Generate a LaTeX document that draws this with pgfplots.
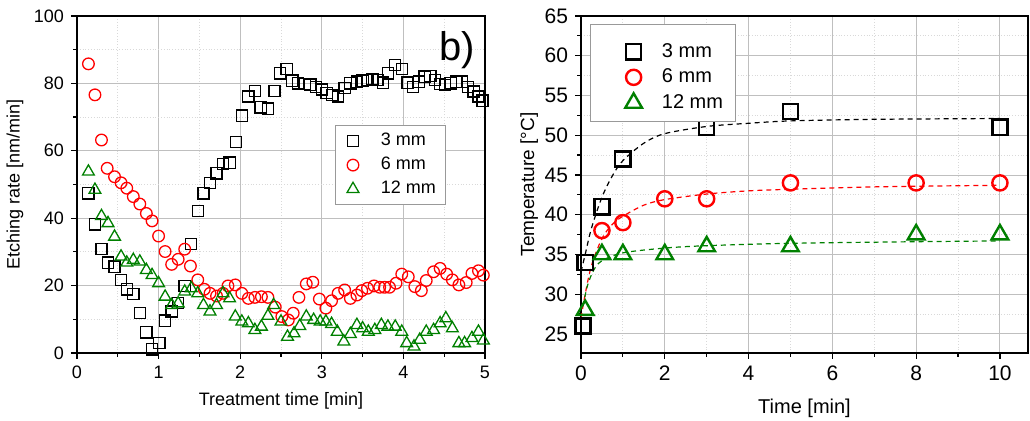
\documentclass[border=0pt]{standalone}
\usepackage{fontspec}
\setmainfont{Liberation Sans}
\usepackage{pgfplots}
\pgfplotsset{compat=1.18}

\definecolor{dgreen}{rgb}{0,0.5,0}

\pgfplotsset{
  panel/.style={
    scale only axis,
    anchor=south west,
    axis line style={line width=0.9pt},
    tick align=outside,
    xtick pos=bottom, ytick pos=left,
    tick style={black, line width=0.6pt},
    major tick length=3pt, minor tick length=1.8pt,
    grid=both,
    major grid style={gray!50, line width=0.45pt},
    minor grid style={gray!30, densely dotted, line width=0.45pt},
    minor tick num=1,
    ticklabel style={font=\fontsize{9}{10}\selectfont},
    /pgf/number format/assume math mode=true,
    legend cell align=left,
  },
  % legend marker at x=#1, with extra room #2 above it
  legmark/.style 2 args={legend image code/.code={\path (0pt,#2) (0pt,-1pt); \draw[##1] plot coordinates {(#1,0pt)};}},
}

\begin{document}
\begin{tikzpicture}
\useasboundingbox (0,0) rectangle (515pt,210.5pt);

% left: etching rate
\begin{axis}[panel,
  at={(38.5pt,34pt)}, width=204pt, height=168.5pt,
  xmin=0, xmax=5, ymin=0, ymax=100,
  xtick={0,1,2,3,4,5}, ytick={0,20,40,60,80,100},
  xlabel={Treatment time [min]}, ylabel={Etching rate [nm/min]},
  xlabel style={font=\fontsize{9}{10}\selectfont, at={(axis description cs:0.5,-0.142)}, anchor=center},
  ylabel style={font=\fontsize{9}{10}\selectfont, at={(axis description cs:-0.152,0.5)}, anchor=center},
  legend style={at={(0.632,0.677)}, anchor=north west, draw=gray!80, line width=0.5pt,
    font=\fontsize{9}{10}\selectfont, row sep=0.2pt, inner xsep=3pt, inner ysep=2pt,
    /tikz/every odd column/.append style={column sep=9pt}},
  every axis plot/.append style={only marks, line width=0.65pt},
]
\addplot[black, mark=square, mark size=2.8pt, legmark={5.5pt}{1pt}] coordinates {
(0.14,47.4) (0.22,38.2) (0.30,30.8) (0.38,26.8) (0.46,25.6) (0.54,21.7) (0.61,18.9) (0.69,17.5)
(0.77,11.8) (0.85,6.1) (0.92,1.1) (1.01,2.9) (1.08,9.6) (1.16,12.3) (1.24,14.9) (1.32,19.9)
(1.40,32.3) (1.48,42.2) (1.55,47.4) (1.63,50.5) (1.71,53.3) (1.79,56.1) (1.87,56.5) (1.95,62.6)
(2.02,70.4) (2.10,76.1) (2.18,77.7) (2.25,72.9) (2.34,72.5) (2.42,77.7) (2.49,83.0) (2.57,84.2)
(2.64,80.8) (2.71,80.0) (2.79,79.8) (2.86,79.6) (2.93,79.0) (3.00,78.2) (3.06,77.2) (3.13,76.6)
(3.20,76.1) (3.28,78.6) (3.35,80.0) (3.43,80.5) (3.50,80.8) (3.56,81.0) (3.62,81.2) (3.68,81.0)
(3.75,80.2) (3.81,83.0) (3.90,85.5) (3.98,84.2) (4.05,80.2) (4.12,79.0) (4.19,80.5) (4.26,82.0)
(4.33,82.2) (4.39,81.0) (4.45,79.8) (4.51,79.5) (4.58,80.0) (4.65,80.5) (4.72,80.5) (4.79,79.0)
(4.86,77.6) (4.92,76.1) (4.97,74.9)
};
\addlegendentry{3 mm}
\addplot[red, mark=o, mark size=2.9pt, legmark={5.5pt}{1pt}] coordinates {
(0.14,85.8) (0.22,76.6) (0.30,63.2) (0.37,54.8) (0.46,52.3) (0.54,50.5) (0.61,48.9) (0.69,46.4)
(0.77,44.2) (0.85,41.4) (0.92,39.2) (1.00,34.7) (1.08,30.1) (1.16,26.3) (1.24,27.8) (1.32,30.8)
(1.39,25.8) (1.48,21.7) (1.56,18.9) (1.63,17.7) (1.71,16.9) (1.79,17.7) (1.85,19.9) (1.94,20.2)
(2.02,17.7) (2.10,16.2) (2.18,16.5) (2.26,16.7) (2.34,16.5) (2.43,13.6) (2.51,10.8) (2.59,9.8)
(2.65,11.8) (2.72,16.5) (2.81,20.5) (2.89,21.0) (2.97,16.0) (3.05,13.3) (3.12,15.5) (3.20,17.7)
(3.28,18.7) (3.35,16.2) (3.43,17.2) (3.49,18.5) (3.56,19.2) (3.64,19.9) (3.71,19.5) (3.77,19.5)
(3.83,19.5) (3.91,20.7) (3.98,23.4) (4.06,22.6) (4.14,19.7) (4.22,18.5) (4.28,21.5) (4.37,24.1)
(4.45,25.1) (4.53,23.4) (4.60,21.7) (4.68,20.2) (4.77,20.9) (4.84,23.6) (4.92,24.4) (4.98,23.1)
};
\addlegendentry{6 mm}
\addplot[dgreen, mark=triangle, mark size=3.4pt, legmark={5.5pt}{1pt}] coordinates {
(0.14,53.8) (0.22,48.4) (0.30,40.6) (0.38,38.5) (0.46,34.5) (0.54,28.6) (0.61,26.8) (0.69,27.6)
(0.77,27.1) (0.85,24.6) (0.92,23.1) (1.00,20.7) (1.08,16.7) (1.16,14.2) (1.24,14.7) (1.32,18.2)
(1.40,19.2) (1.48,17.7) (1.55,14.2) (1.63,12.3) (1.71,14.2) (1.79,17.7) (1.87,16.2) (1.94,10.8)
(2.02,9.3) (2.10,8.8) (2.18,6.8) (2.26,7.8) (2.34,11.0) (2.41,14.2) (2.50,9.3) (2.58,4.8)
(2.66,5.8) (2.73,8.0) (2.81,10.8) (2.90,9.8) (2.98,9.3) (3.05,9.3) (3.12,8.6) (3.19,6.3)
(3.27,3.4) (3.35,5.6) (3.43,8.3) (3.50,7.3) (3.57,6.3) (3.65,6.8) (3.73,8.3) (3.81,7.8)
(3.90,7.8) (3.98,6.3) (4.04,2.9) (4.13,1.9) (4.20,3.9) (4.28,6.3) (4.37,6.8) (4.45,8.8)
(4.52,10.3) (4.60,7.3) (4.68,2.9) (4.75,2.9) (4.84,4.4) (4.92,6.3) (4.98,3.7)
};
\addlegendentry{12 mm}
\node[font=\fontsize{20}{21}\selectfont] at (axis cs:4.66,90) {b)};
\end{axis}

% right: temperature
\begin{axis}[panel,
  at={(290.5pt,34pt)}, width=223.5pt, height=168.5pt,
  xmin=0, xmax=10.67, ymin=22.6, ymax=65,
  xtick={0,2,4,6,8,10}, ytick={25,30,35,40,45,50,55,60,65},
  ticklabel style={font=\fontsize{10.5}{11}\selectfont},
  xlabel={Time [min]}, ylabel={Temperature [°C]},
  xlabel style={font=\fontsize{10}{11}\selectfont, at={(axis description cs:0.5,-0.163)}, anchor=center},
  ylabel style={font=\fontsize{9.5}{10}\selectfont, at={(axis description cs:-0.116,0.5)}, anchor=center},
  legend style={at={(0.02,0.976)}, anchor=north west, draw=gray!80, line width=0.5pt,
    font=\fontsize{10}{11}\selectfont, row sep=0.3pt, inner xsep=4pt, inner ysep=3pt,
    /tikz/every odd column/.append style={column sep=8pt}},
]
\addplot[black, dashed, dash pattern=on 2.5pt off 2pt, line width=0.6pt, smooth, forget plot] coordinates {
(0,32.8) (0.1,35) (0.25,38.3) (0.5,42.2) (0.75,44.9) (1,46.8) (1.5,49.0) (2,50.2) (3,51.1)
(4,51.5) (5,51.8) (7,52.0) (10,52.1)};
\addplot[red, dashed, dash pattern=on 2.5pt off 2pt, line width=0.6pt, smooth, forget plot] coordinates {
(0,27) (0.1,30) (0.25,33.6) (0.5,37) (0.75,38.8) (1,39.8) (1.5,41.2) (2,41.9) (3,42.6)
(4,43) (5,43.2) (7,43.5) (10,43.7)};
\addplot[dgreen, dashed, dash pattern=on 2.5pt off 2pt, line width=0.6pt, smooth, forget plot] coordinates {
(0.05,28.5) (0.15,31) (0.3,33) (0.5,34.2) (1,35.2) (2,35.8) (3,36.1) (5,36.4) (8,36.6) (10,36.7)};
\addplot[black, only marks, mark=square, mark size=3.8pt, line width=1.2pt, legmark={17pt}{10pt}] coordinates {
(0.05,26) (0.1,34) (0.5,41) (1,47) (3,51) (5,53) (10,51)};
\addlegendentry{3 mm}
\addplot[red, only marks, mark=o, mark size=3.8pt, line width=1.2pt, legmark={17pt}{4pt}] coordinates {
(0.5,38) (1,39) (2,42) (3,42) (5,44) (8,44) (10,44)};
\addlegendentry{6 mm}
\addplot[dgreen, only marks, mark=triangle, mark size=4.8pt, line width=1.2pt, legmark={17pt}{4pt}] coordinates {
(0.1,28) (0.5,35) (1,35) (2,35) (3,36) (5,36) (8,37.5) (10,37.5)};
\addlegendentry{12 mm}
\end{axis}
\end{tikzpicture}
\end{document}
